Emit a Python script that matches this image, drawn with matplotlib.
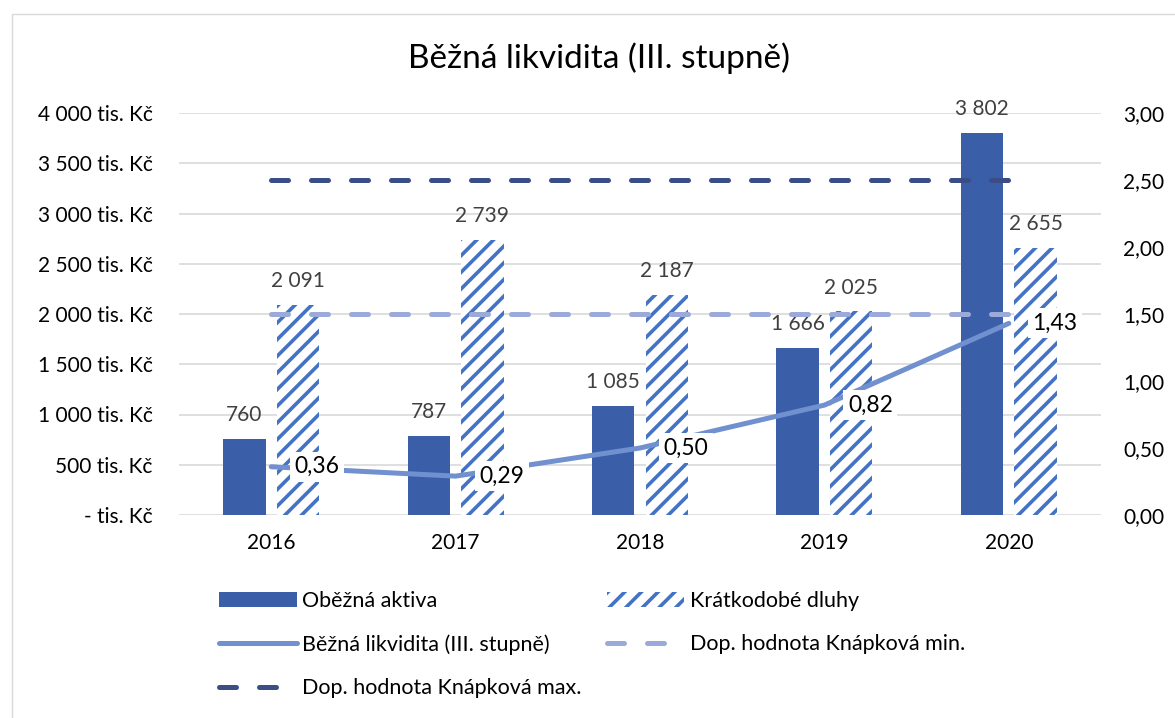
"""Běžná likvidita – bar + line combo chart."""
import matplotlib

matplotlib.use("Agg")
import matplotlib.pyplot as plt
from matplotlib.lines import Line2D
from matplotlib.patches import Patch, Rectangle

plt.rcParams["font.family"] = ["Lato", "DejaVu Sans"]
plt.rcParams["hatch.linewidth"] = 2.6

years = ["2016", "2017", "2018", "2019", "2020"]
obezna_aktiva = [760, 787, 1085, 1666, 3802]
kratkodobe_dluhy = [2091, 2739, 2187, 2025, 2655]
likvidita = [0.36, 0.29, 0.50, 0.82, 1.43]
knapkova_min = [1.5, 1.5, 1.5, 1.5, 1.5]
knapkova_max = [2.5, 2.5, 2.5, 2.5, 2.5]
left_ticks = [0, 500, 1000, 1500, 2000, 2500, 3000, 3500, 4000]
right_ticks = [0.0, 0.5, 1.0, 1.5, 2.0, 2.5, 3.0]

C_SOLID = "#3a5fa8"
C_HATCH = "#4472c4"
C_LINE = "#7090d0"
C_MIN = "#9baad8"
C_MAX = "#3a4d87"
DASH = (3.4, 4.6)

W, H = 1175, 718
fig = plt.figure(figsize=(W / 100, H / 100), dpi=100)
fig.patches.append(Rectangle((12 / W, -0.05), 1.1, 1 - 14 / H + 0.05, transform=fig.transFigure,
                             fill=False, edgecolor="#d9d9d9", linewidth=1))

ax = fig.add_axes([179 / W, 1 - 515 / H, (1101 - 179) / W, (515 - 113) / H])
ax2 = ax.twinx()

x = list(range(len(years)))
bw = 0.23
off = 0.145
b1 = ax.bar([i - off for i in x], obezna_aktiva, bw, color=C_SOLID, zorder=2)
b2 = ax.bar([i + off for i in x], kratkodobe_dluhy, bw, facecolor="white", edgecolor=C_HATCH,
            hatch="//", linewidth=0, zorder=2)

for bars, vals in ((b1, obezna_aktiva), (b2, kratkodobe_dluhy)):
    for r, v in zip(bars, vals):
        ax.annotate(f"{v:,}".replace(",", " "), (r.get_x() + r.get_width() / 2, v),
                    xytext=(0, 10), textcoords="offset points", ha="center", va="bottom",
                    fontsize=15, color="#404040", zorder=5)

ax.set_xlim(-0.5, len(years) - 0.5)
ax.set_ylim(0, 4000)
ax.set_yticks(left_ticks)
ax.set_yticklabels([("-" if v == 0 else f"{v:,}".replace(",", " ")) + " tis. Kč" for v in left_ticks])
ax.set_xticks(x)
ax.set_xticklabels(years)
ax.grid(axis="y", color="#d9d9d9", linewidth=1.2)
ax.set_axisbelow(True)
ax.tick_params(axis="both", length=0, labelsize=15)
ax.tick_params(axis="x", pad=13)
ax.tick_params(axis="y", pad=19)

ax2.plot(x, knapkova_min, color=C_MIN, lw=3.6, dashes=DASH, dash_capstyle="round", zorder=3)
ax2.plot(x, knapkova_max, color=C_MAX, lw=3.6, dashes=DASH, dash_capstyle="round", zorder=3)
ax2.plot(x, likvidita, color=C_LINE, lw=3.6, solid_capstyle="round", zorder=3)
for i, v in zip(x, likvidita):
    ax2.annotate(f"{v:.2f}".replace(".", ","), (i, v), xytext=(17, 0), textcoords="offset points",
                 ha="left", va="center", fontsize=16.5, color="black", zorder=6,
                 bbox=dict(boxstyle="square,pad=0.2", facecolor="white", edgecolor="none"))
ax2.set_ylim(0, 3)
ax2.set_yticks(right_ticks)
ax2.set_yticklabels([f"{v:.2f}".replace(".", ",") for v in right_ticks])
ax2.tick_params(axis="y", length=0, labelsize=15, pad=16)

for a in (ax, ax2):
    for s in a.spines.values():
        s.set_visible(False)

fig.text(599 / W, 1 - 58 / H, "Běžná likvidita (III. stupně)", ha="center", va="center",
         fontsize=24, color="black")

h_solid = Patch(facecolor=C_SOLID)
h_hatch = Patch(facecolor="white", edgecolor=C_HATCH, hatch="//", linewidth=0)
h_line = Line2D([], [], color=C_LINE, lw=3.6, solid_capstyle="round")
h_min = Line2D([], [], color=C_MIN, lw=3.6, dashes=DASH, dash_capstyle="round")
h_max = Line2D([], [], color=C_MAX, lw=3.6, dashes=DASH, dash_capstyle="round")

leg_kw = dict(loc="upper left", frameon=False, fontsize=15.5, handlelength=3.6,
              handletextpad=0.25, labelspacing=1.08, borderaxespad=0, borderpad=0)
fig.legend([h_solid, h_line, h_max],
           ["Oběžná aktiva", "Běžná likvidita (III. stupně)", "Dop. hodnota Knápková max."],
           bbox_to_anchor=(219 / W, 1 - 591 / H), **leg_kw)
fig.legend([h_hatch, h_min], ["Krátkodobé dluhy", "Dop. hodnota Knápková min."],
           bbox_to_anchor=(607 / W, 1 - 591 / H), **leg_kw)

fig.savefig("out.png", dpi=100)
